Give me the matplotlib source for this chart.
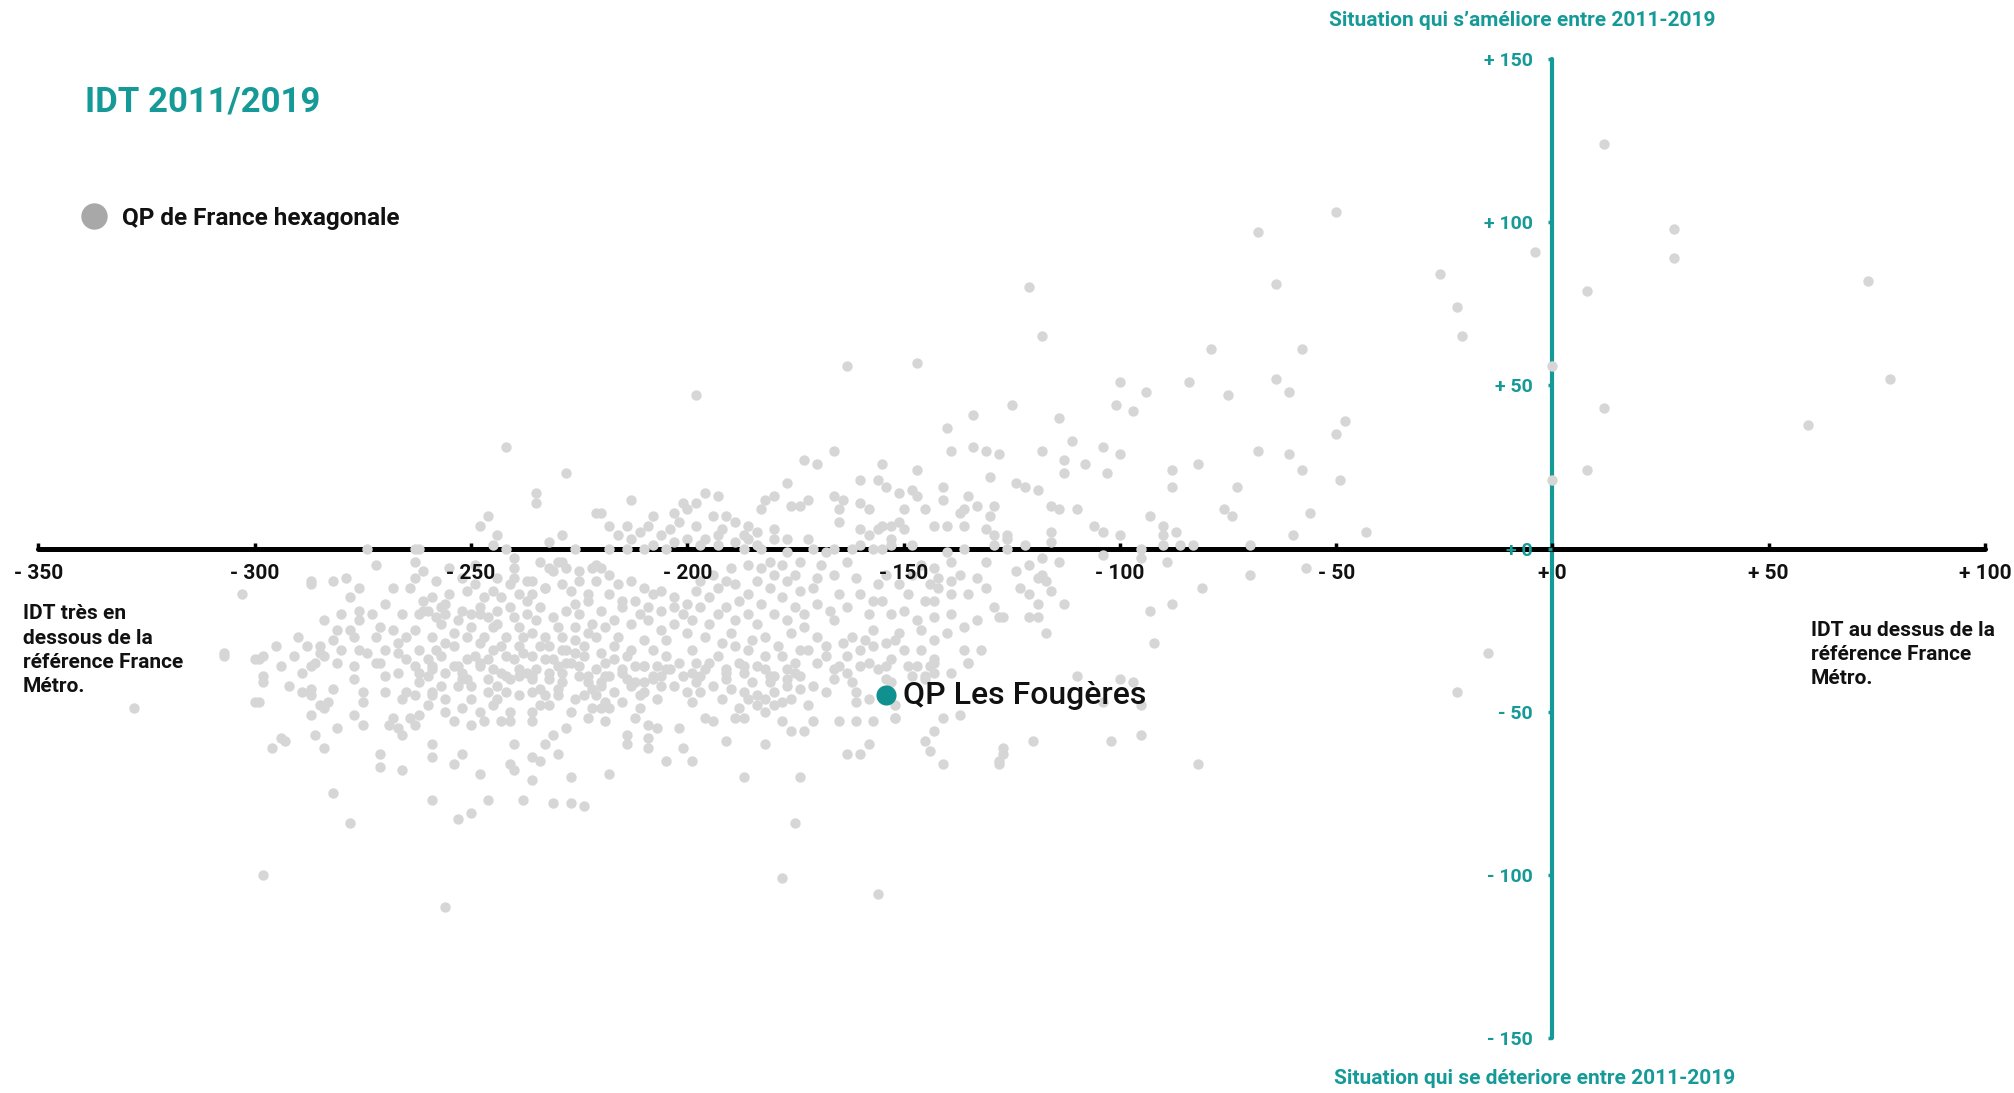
import matplotlib
matplotlib.use('Agg')

import matplotlib.pyplot as plt

plt.rcParams['font.family'] = ['Roboto', 'DejaVu Sans']

TEAL = '#159a98'
GREY_DOT = '#d6d6d6'

x_ticks = [-350, -300, -250, -200, -150, -100, -50, 0, 50, 100]
y_ticks = [-150, -100, -50, 0, 50, 100, 150]

# QP Les Fougeres
fougeres = (-154, -45)

# QP de France hexagonale
qp_east = [
    (12, 124), (28, 98), (28, 89), (8, 79), (-4, 91), (73, 82), (78, 52), (59, 38),
    (12, 43), (8, 24), (0, 56), (0, 21), (-15, -32), (-22, -44),
    (-50, 103), (-68, 97), (-26, 84), (-64, 81), (-22, 74), (-21, 65), (-79, 61),
    (-58, 61), (-100, 51), (-84, 51), (-64, 52), (-61, 48), (-94, 48), (-75, 47),
    (-101, 44), (-97, 42), (-114, 40), (-48, 39), (-50, 35), (-111, 33), (-118, 30),
    (-104, 31), (-100, 29), (-68, 30), (-61, 29), (-113, 27), (-108, 26), (-82, 26),
    (-113, 23), (-103, 23), (-88, 24), (-58, 24), (-49, 21), (-122, 19), (-119, 18),
    (-88, 19), (-73, 19), (-116, 13), (-114, 12), (-110, 12), (-76, 12), (-56, 11),
    (-74, 10), (-93, 10), (-90, 7), (-106, 7), (-116, 5), (-43, 5), (-87, 5), (-104, 5),
    (-100, 4), (-90, 4), (-60, 4), (-126, 4), (-116, 2), (-122, 1), (-86, 1), (-83, 1),
    (-70, 1), (-95, 0), (-90, 1), (-121, 80), (-118, 65), (-125, 44),
    (-198, 47), (-163, 56), (-147, 57),
    (-104, -2), (-95, -3), (-118, -3), (-114, -4), (-89, -4), (-121, -5), (-124, -7),
    (-118, -8), (-117, -10), (-119, -9), (-70, -8), (-57, -6), (-123, -12), (-116, -13),
    (-121, -14), (-81, -12), (-113, -17), (-119, -17), (-88, -17), (-93, -19),
    (-121, -21), (-119, -21), (-127, -21), (-117, -26), (-92, -29), (-110, -39),
    (-100, -40), (-97, -41), (-104, -47), (-95, -48), (-120, -59), (-102, -59),
    (-95, -57), (-127, -61), (-128, -65), (-82, -66),
]

qp_south = [
    (-218, -69), (-187, -70), (-174, -70), (-175, -84), (-178, -101), (-156, -106),
    (-205, -65), (-199, -65), (-163, -63), (-160, -63), (-158, -60), (-141, -66),
    (-128, -66), (-127, -63), (-144, -62), (-145, -59), (-143, -56), (-141, -52),
    (-137, -51), (-152, -52), (-165, -53), (-161, -53), (-157, -53), (-176, -56),
    (-173, -56), (-171, -53), (-178, -53), (-182, -60), (-191, -59), (-201, -61),
    (-202, -55), (-207, -55), (-209, -54), (-209, -58), (-209, -61), (-214, -60),
    (-214, -57), (-219, -53), (-212, -52), (-218, -49), (-196, -52), (-194, -53),
    (-189, -52), (-187, -52), (-188, -49), (-184, -48), (-182, -50), (-192, -46),
    (-199, -47), (-178, -47), (-180, -48), (-182, -46), (-184, -45), (-174, -43),
    (-177, -42), (-177, -40), (-175, -38), (-171, -42), (-187, -44), (-186, -46),
    (-181, -41), (-180, -39), (-182, -37), (-191, -38), (-191, -40), (-187, -38),
    (-187, -36), (-197, -39), (-198, -41), (-196, -37), (-206, -42), (-206, -39),
    (-205, -37), (-207, -36), (-210, -36), (-208, -40), (-210, -41), (-214, -40),
    (-215, -38), (-213, -42), (-212, -41), (-220, -42), (-219, -39), (-218, -39),
    (-220, -41), (-211, -45), (-210, -44), (-220, -49), (-219, -47), (-165, -36),
    (-163, -38), (-158, -35), (-154, -36), (-154, -40), (-153, -41), (-152, -48),
    (-152, -52), (-161, -44), (-161, -47), (-158, -46), (-147, -36), (-144, -36),
    (-148, -39), (-145, -40), (-143, -38), (-143, -35), (-135, -35),
]

qp_west = [
    (-298, -100), (-256, -110), (-278, -84), (-282, -75), (-259, -77), (-253, -83),
    (-250, -81), (-246, -77), (-238, -77), (-231, -78), (-227, -78), (-224, -79),
    (-248, -69), (-236, -71), (-227, -70), (-241, -66), (-240, -68), (-236, -64),
    (-234, -65), (-230, -63), (-233, -60), (-231, -57), (-228, -55), (-240, -60),
    (-254, -66), (-252, -63), (-259, -60), (-259, -64), (-266, -68), (-271, -67),
    (-271, -63), (-266, -57), (-263, -54), (-264, -52), (-262, -51), (-268, -52),
    (-269, -54), (-267, -55), (-275, -54), (-275, -47), (-275, -44), (-277, -51),
    (-277, -40), (-281, -55), (-286, -57), (-284, -61), (-287, -51), (-284, -49),
    (-283, -47), (-285, -48), (-282, -43), (-289, -44), (-287, -43), (-296, -61),
    (-293, -59), (-299, -47), (-298, -39), (-298, -41), (-277, -36), (-252, -49),
    (-254, -53), (-250, -54), (-247, -53), (-243, -53), (-241, -53), (-246, -44),
    (-244, -46), (-245, -48), (-241, -50), (-236, -50), (-236, -53), (-232, -48),
    (-227, -50), (-222, -49), (-223, -52), (-224, -45), (-222, -43), (-223, -41),
    (-259, -45), (-256, -46), (-270, -44), (-265, -44), (-266, -46), (-270, -39),
    (-267, -38), (-248, -36), (-246, -40), (-243, -38), (-241, -40), (-242, -44),
    (-236, -44), (-234, -43), (-233, -45), (-230, -45), (-230, -43), (-287, -36),
    (-286, -35), (-281, -35), (-272, -35), (-263, -36), (-259, -36), (-256, -38),
    (-257, -42), (-253, -42), (-251, -40), (-250, -42), (-252, -38), (-253, -36),
    (-239, -39), (-236, -40), (-237, -38), (-235, -37), (-232, -38), (-230, -36),
    (-228, -35), (-225, -36), (-223, -39), (-260, -39), (-262, -41), (-259, -44),
    (-328, -49), (-307, -32), (-299, -34), (-300, -47), (-287, -10), (-285, -30),
    (-279, -9), (-287, -45), (-289, -38), (-294, -58),
]

qp_core_west = [
    (-242, 31), (-228, 23), (-235, 17), (-235, 14), (-221, 11), (-246, 10), (-248, 7),
    (-244, 4), (-229, 4), (-232, 2),
    (-274, 0), (-263, 0), (-262, 0), (-245, 1), (-242, 0), (-226, 0),
    (-272, -5), (-263, -4), (-263, -9), (-287, -11), (-282, -10), (-276, -12),
    (-303, -14), (-240, -3), (-240, -6), (-255, -14), (-249, -11), (-245, -13),
    (-261, -16), (-259, -15), (-257, -18), (-261, -19), (-256, -17), (-276, -19),
    (-273, -20), (-276, -22), (-271, -24), (-268, -25), (-272, -27), (-281, -25),
    (-282, -28), (-280, -31), (-288, -30), (-291, -33), (-285, -32), (-284, -33),
    (-307, -33), (-300, -34), (-298, -33), (-277, -27), (-276, -31), (-274, -32),
    (-271, -35), (-270, -31), (-267, -29), (-267, -32), (-265, -34),
    (-263, -25), (-262, -20), (-260, -19), (-258, -21), (-256, -20), (-253, -22),
    (-252, -19), (-250, -20), (-248, -18), (-246, -21), (-244, -19),
    (-240, -9), (-237, -10), (-236, -14), (-233, -12), (-232, -6), (-230, -4),
    (-228, -6), (-225, -10), (-223, -14), (-221, -5),
    (-234, -4), (-231, -7), (-229, -4), (-225, -7), (-222, -6), (-236, -10),
    (-239, -14), (-241, -11), (-237, -16), (-233, -12), (-229, -11), (-227, -13),
    (-223, -16), (-221, -10), (-243, -15), (-240, -21), (-237, -20), (-234, -18),
    (-231, -21), (-228, -19), (-225, -20), (-222, -23), (-248, -20), (-245, -24),
    (-242, -27), (-239, -24), (-236, -26), (-233, -27), (-230, -24), (-226, -28),
    (-223, -26), (-251, -27), (-248, -29), (-245, -31), (-242, -33), (-239, -30),
    (-236, -33), (-233, -34), (-229, -31), (-227, -35), (-224, -33), (-254, -30),
    (-251, -34), (-248, -35), (-245, -37), (-242, -39), (-239, -37), (-236, -39),
    (-232, -40), (-229, -38), (-225, -39), (-221, -37), (-259, -27), (-257, -33),
    (-254, -36), (-259, -37), (-262, -38), (-252, -40),
]

qp_core_mid = [
    (-131, -4), (-137, -8), (-143, -6), (-146, -5), (-139, -10), (-142, -12),
    (-139, -14), (-131, -12), (-129, -18), (-128, -21), (-133, -22), (-136, -24),
    (-139, -20), (-143, -16), (-144, -11), (-132, -31), (-135, -35), (-143, -28),
    (-146, -31), (-151, -26), (-153, -20), (-155, -16), (-150, -19), (-147, -22),
    (-157, -25), (-159, -28), (-162, -27), (-166, -22), (-167, -19), (-170, -17),
    (-171, -12), (-174, -13), (-175, -8), (-177, -10), (-180, -8), (-183, -6),
    (-186, -5), (-189, -11), (-191, -10), (-193, -12), (-195, -15), (-197, -18),
    (-199, -22), (-201, -20), (-203, -15), (-206, -13), (-208, -14), (-210, -12),
    (-213, -10), (-216, -11), (-218, -8), (-220, -6), (-215, -18), (-217, -22),
    (-213, -23), (-209, -22), (-206, -25), (-210, -28), (-213, -31), (-217, -30),
    (-219, -35), (-215, -37), (-210, -36), (-208, -39), (-205, -33), (-202, -35),
    (-199, -31), (-196, -27), (-193, -20), (-191, -18), (-189, -22), (-186, -20),
    (-184, -23), (-182, -27), (-180, -20), (-177, -22), (-175, -18), (-173, -24),
    (-170, -27), (-174, -31), (-179, -30), (-182, -33), (-186, -31), (-188, -35),
    (-191, -37), (-195, -35), (-199, -38), (-177, -37), (-174, -39), (-170, -35),
    (-166, -37), (-163, -33), (-160, -36), (-156, -37), (-153, -34), (-149, -36),
    (-145, -39), (-143, -34), (-139, -38), (-136, -31),
    (-213, 3), (-206, 4), (-204, 6), (-200, 3), (-196, 3), (-193, 4), (-189, 2),
    (-187, 4), (-180, 3), (-177, 3), (-172, 3),
    (-218, 0), (-214, 0), (-210, 0), (-208, 1), (-205, 0), (-197, 1), (-193, 1),
    (-187, 0), (-184, 1), (-183, 0), (-177, -1), (-171, 0), (-168, -1), (-166, 0),
    (-162, 0), (-160, 1), (-157, 0), (-155, 0), (-153, 1), (-148, 1), (-140, -1),
    (-136, 0), (-129, 1), (-126, 0),
    (-134, 41), (-140, 37), (-166, 30), (-173, 27), (-170, 26), (-155, 26),
    (-147, 24), (-139, 30), (-134, 31), (-131, 30), (-128, 29), (-130, 22), (-177, 20),
    (-160, 21), (-156, 21), (-154, 19), (-151, 17), (-148, 18), (-147, 16), (-145, 12),
    (-141, 19), (-141, 15), (-135, 16), (-133, 13), (-136, 12), (-137, 11), (-129, 13),
    (-130, 10), (-131, 6), (-143, 7), (-140, 7), (-136, 7), (-129, 4), (-126, 3),
    (-124, 20), (-166, 16), (-164, 15), (-165, 12), (-165, 8), (-160, 6), (-158, 4),
    (-156, 6), (-155, 7), (-153, 7), (-153, 3), (-150, 12), (-151, 8), (-150, 6),
    (-160, 14), (-158, 12), (-176, 13), (-174, 13), (-172, 15), (-183, 12),
    (-182, 15), (-180, 16), (-180, 6), (-186, 7), (-186, 3), (-191, 10), (-194, 10),
    (-196, 17), (-193, 16), (-198, 14), (-200, 12), (-201, 14), (-203, 11), (-202, 8),
    (-208, 10), (-209, 7), (-213, 15), (-214, 7), (-218, 7), (-220, 11),
]

# densest part of the cloud, where the dots overlap
qp_core_fill = [
    (-264, -12), (-261, -7), (-258, -10), (-255, -6), (-252, -9), (-249, -5), (-247, -15),
    (-244, -9), (-251, -13), (-257, -23), (-254, -26), (-250, -24), (-247, -27),
    (-244, -23), (-241, -18), (-238, -27), (-235, -22), (-232, -30), (-229, -27),
    (-226, -24), (-224, -30), (-221, -27), (-219, -24), (-216, -27), (-214, -33),
    (-211, -20), (-208, -31), (-205, -28), (-203, -23), (-200, -26), (-198, -13),
    (-195, -23), (-192, -29), (-190, -26), (-188, -16), (-185, -28), (-183, -17),
    (-181, -12), (-178, -15), (-176, -26), (-173, -20), (-170, -9), (-168, -30),
    (-165, -14), (-163, -18), (-161, -9), (-158, -20), (-156, -11), (-152, -28),
    (-149, -14), (-146, -25), (-143, -21), (-140, -26),
    (-263, -45), (-260, -48), (-256, -50), (-250, -46), (-248, -50), (-244, -42),
    (-239, -45), (-234, -48), (-229, -41), (-226, -46), (-221, -45), (-217, -44),
    (-215, -47), (-211, -49), (-207, -46), (-203, -42), (-200, -44), (-197, -44),
    (-194, -42), (-190, -43), (-185, -41), (-180, -44), (-176, -46), (-172, -48),
    (-168, -44), (-166, -40), (-162, -41), (-278, -25), (-280, -20), (-278, -15),
    (-284, -22), (-290, -27), (-294, -36), (-292, -42), (-295, -30), (-270, -17),
    (-268, -12), (-266, -20), (-265, -27), (-262, -31), (-260, -34), (-258, -31),
    (-256, -29), (-249, -33), (-246, -34), (-243, -30), (-240, -34), (-238, -32),
    (-234, -30), (-231, -34), (-228, -31), (-226, -32), (-220, -32), (-217, -34),
    (-212, -36), (-204, -37), (-201, -39), (-198, -35), (-193, -33), (-189, -30),
    (-184, -36), (-181, -39), (-178, -33), (-175, -35), (-172, -31), (-168, -33),
    (-164, -29), (-160, -31), (-157, -30), (-154, -29), (-150, -31), (-226, -17),
    (-220, -19), (-218, -14), (-215, -16), (-212, -16), (-209, -18), (-206, -19),
    (-203, -18), (-200, -17), (-197, -10), (-194, -8), (-190, -6), (-186, -14),
    (-184, -10), (-181, -4), (-178, -5), (-174, -4), (-169, -5), (-166, -8),
    (-163, -4), (-160, -14), (-157, -16), (-154, -8), (-151, -11), (-148, -8),
    (-145, -16), (-142, -9), (-139, -4), (-135, -14), (-133, -9),
    (-211, 5), (-203, 2), (-198, 7), (-192, 6), (-216, 4), (-189, 8), (-184, 5),
]

qp_all = qp_east + qp_south + qp_west + qp_core_west + qp_core_mid + qp_core_fill
qp_x = [p[0] for p in qp_all]
qp_y = [p[1] for p in qp_all]


def signed(v):
    return f"+ {v}" if v >= 0 else f"- {abs(v)}"


fig = plt.figure(figsize=(20.15, 10.93), dpi=100)
ax = fig.add_axes([0.0191, 0.0503, 0.966, 0.8957])
ax.set_xlim(-350, 100)
ax.set_ylim(-150, 150)

ax.spines['top'].set_visible(False)
ax.spines['right'].set_visible(False)
ax.spines['bottom'].set_position(('data', 0))
ax.spines['left'].set_position(('data', 0))
ax.spines['bottom'].set_linewidth(3.6)
ax.spines['bottom'].set_color('black')
ax.spines['left'].set_linewidth(3.0)
ax.spines['left'].set_color(TEAL)
for s in ('bottom', 'left'):
    ax.spines[s].set_capstyle('round')

ax.set_xticks(x_ticks)
ax.set_xticklabels([signed(v) for v in x_ticks])
ax.set_yticks(y_ticks)
ax.set_yticklabels([signed(v) for v in y_ticks])
ax.tick_params(axis='x', direction='in', length=4, width=2.5, pad=11,
               labelsize=15, labelcolor='#111111', color='black')
ax.tick_params(axis='y', direction='out', length=3, width=2.5, pad=11,
               labelsize=14, labelcolor=TEAL, color=TEAL)
for lab in ax.get_xticklabels() + ax.get_yticklabels():
    lab.set_fontweight('bold')
# tick labels stay readable on top of the cloud, the axis lines stay under it
ax.xaxis.set_zorder(5)
ax.yaxis.set_zorder(5)

ax.scatter(qp_x, qp_y, s=56, color=GREY_DOT, linewidths=0, zorder=3, clip_on=False)
ax.scatter([fougeres[0]], [fougeres[1]], s=210, color='#0e918f', linewidths=0, zorder=4)
ax.annotate('QP Les Fougères', xy=fougeres, xytext=(12, 0), textcoords='offset points',
            va='center', ha='left', fontsize=23, fontweight='medium', color='#111111', zorder=6)

# titles and notes
fig.text(0.0421, 0.907, 'IDT 2011/2019', fontsize=25, fontweight='bold', color=TEAL,
         va='center', ha='left')
fig.add_artist(plt.Line2D([0.0466], [0.802], marker='o', markersize=19, color='#a8a8a8',
                          markeredgewidth=0, transform=fig.transFigure))
fig.text(0.0605, 0.8, 'QP de France hexagonale', fontsize=17.5, fontweight='bold',
         color='#111111', va='center', ha='left')

fig.text(0.7553, 0.9808, 'Situation qui s’améliore entre 2011-2019', fontsize=15,
         fontweight='bold', color=TEAL, va='center', ha='center')
fig.text(0.7618, 0.0137, 'Situation qui se déteriore entre 2011-2019', fontsize=15,
         fontweight='bold', color=TEAL, va='center', ha='center')

fig.text(0.0114, 0.447, 'IDT très en\ndessous de la\nréférence France\nMétro.',
         fontsize=15, fontweight='bold', color='#111111', va='top', ha='left',
         linespacing=1.35)
fig.text(0.8988, 0.432, 'IDT au dessus de la\nréférence France\nMétro.',
         fontsize=15, fontweight='bold', color='#111111', va='top', ha='left',
         linespacing=1.35)

fig.savefig('out.png', dpi=100, facecolor='white')
